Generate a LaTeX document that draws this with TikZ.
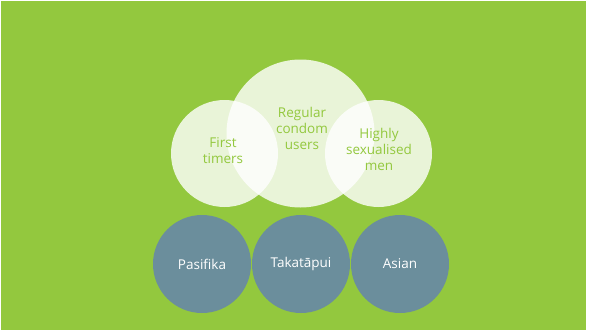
\documentclass[tikz,border=0pt]{standalone}
\usepackage{fontspec}
\setmainfont{Open Sans}
\definecolor{leaf}{HTML}{93C83E}
\definecolor{slate}{HTML}{6B8E9C}

\tikzset{
  group/.style={circle, inner sep=0pt, fill=white, fill opacity=.8},
  grouptext/.style={text=leaf, align=center, font=\fontsize{13.5}{16}\selectfont},
  people/.style={circle, inner sep=0pt, minimum size=98pt, fill=slate,
    text=white, font=\fontsize{13.5}{16}\selectfont}
}

\begin{document}
\begin{tikzpicture}[x=1pt,y=-1pt]

\useasboundingbox (0,0) rectangle (589,332) ;
\fill [white] (0,0) rectangle (589,332) ;
\fill [leaf] (1,1) rectangle (586,330) ;

% the three overlapping groups
\node [group, minimum size=148pt] (regular) at (300.5,133.5) {} ;
\node [group, minimum size=107pt] (first) at (224.5,153.5) {} ;
\node [group, minimum size=107pt] (highly) at (378.5,153.5) {} ;

\node [grouptext] (regulartext) at (302,128) {Regular\\condom\\users} ;
\node [grouptext] (firsttext) at (223,151) {First\\timers} ;
\node [grouptext] (highlytext) at (379,149) {Highly\\sexualised\\men} ;

% communities along the bottom
\node [people] (pasifika) at (202,264) {Pasifika} ;
\node [people] (takatapui) at (301,264) {Takatāpui} ;
\node [people] (asian) at (400,264) {Asian} ;

\end{tikzpicture}
\end{document}
